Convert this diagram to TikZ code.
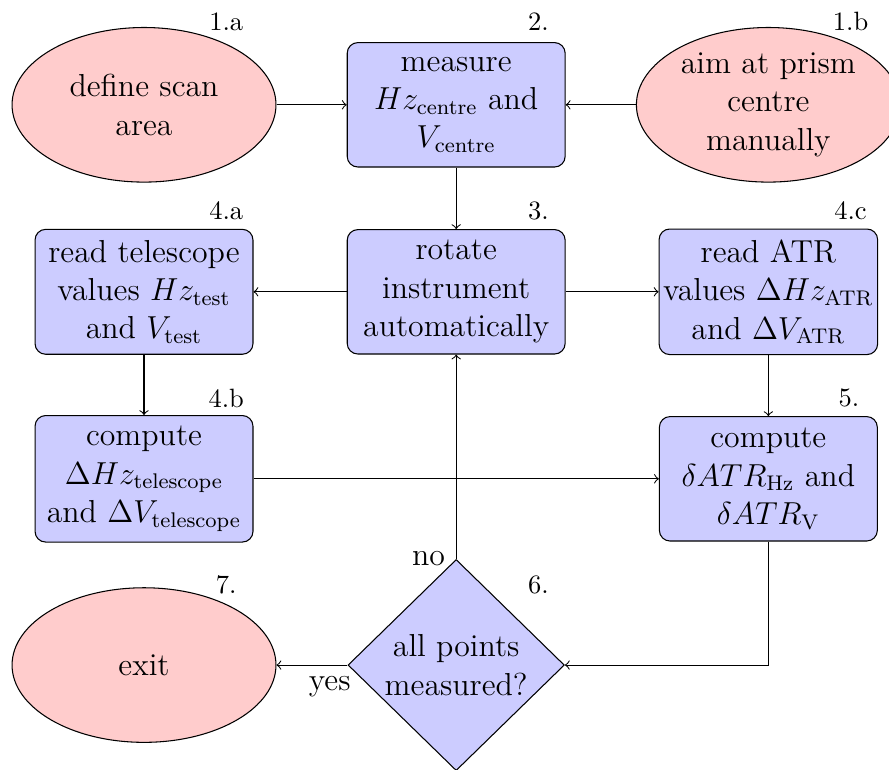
\documentclass[12pt,tikz,border=0pt]{standalone}
\usetikzlibrary{shapes.geometric}

\begin{document}
\begin{tikzpicture}
\tikzstyle{terminal} = [ellipse, draw=black, fill=red!20, minimum width=3.5cm, minimum height=2.05cm, inner sep=0pt, align=center]
\tikzstyle{process} = [rectangle, rounded corners, draw=black, fill=blue!20, minimum width=2.89cm, minimum height=1.65cm, inner xsep=1.5pt, align=center]
\tikzstyle{decision} = [diamond, draw=black, fill=blue!20, minimum width=2.87cm, minimum height=2.8cm, inner sep=0pt, align=center]
\tikzstyle{stepnum} = [font=\footnotesize]
\tikzstyle{edge} = [->]
\useasboundingbox (-6.05, -6.33) rectangle (5.74, 3.87);
% steps
\node[terminal] (area) at (-4.14, 2.48) {define scan\\area};
\node[process] (centre) at (0, 2.48) {measure\\$Hz_\mathrm{centre}$ and\\$V_\mathrm{centre}$};
\node[terminal] (aim) at (4.14, 2.48) {aim at prism\\centre\\manually};
\node[process] (telescope) at (-4.14, 0) {read telescope\\values $Hz_\mathrm{test}$\\and $V_\mathrm{test}$};
\node[process] (rotate) at (0, 0) {rotate\\instrument\\automatically};
\node[process] (atr) at (4.14, 0) {read ATR\\values $\Delta Hz_\mathrm{ATR}$\\and $\Delta V_\mathrm{ATR}$};
\node[process] (delta) at (-4.14, -2.48) {compute\\$\Delta Hz_\mathrm{telescope}$\\and $\Delta V_\mathrm{telescope}$};
\node[process] (offset) at (4.14, -2.48) {compute\\$\delta ATR_\mathrm{Hz}$ and\\$\delta ATR_\mathrm{V}$};
\node[decision] (done) at (0, -4.95) {all points\\measured?};
\node[terminal] (exit) at (-4.14, -4.95) {exit};
% step numbers
\node[stepnum] (n1a) at (-3.05, 3.58) {1.a};
\node[stepnum] (n2) at (1.09, 3.58) {2.};
\node[stepnum] (n1b) at (5.23, 3.58) {1.b};
\node[stepnum] (n4a) at (-3.05, 1.07) {4.a};
\node[stepnum] (n3) at (1.09, 1.07) {3.};
\node[stepnum] (n4c) at (5.23, 1.07) {4.c};
\node[stepnum] (n4b) at (-3.05, -1.41) {4.b};
\node[stepnum] (n5) at (5.21, -1.41) {5.};
\node[stepnum] (n7) at (-3.05, -3.89) {7.};
\node[stepnum] (n6) at (1.09, -3.89) {6.};
% flow
\draw[edge] (area)--(centre);
\draw[edge] (aim)--(centre);
\draw[edge] (centre)--(rotate);
\draw[edge] (rotate)--(telescope);
\draw[edge] (rotate)--(atr);
\draw[edge] (telescope)--(delta);
\draw[edge] (delta)--(offset);
\draw[edge] (atr)--(offset);
\draw[edge] (offset) |- (done);
\draw[edge] (done)-- node[pos=0, left] {no} (rotate);
\draw[edge] (done)-- node[near start, below] {yes} (exit);
\end{tikzpicture}
\end{document}
